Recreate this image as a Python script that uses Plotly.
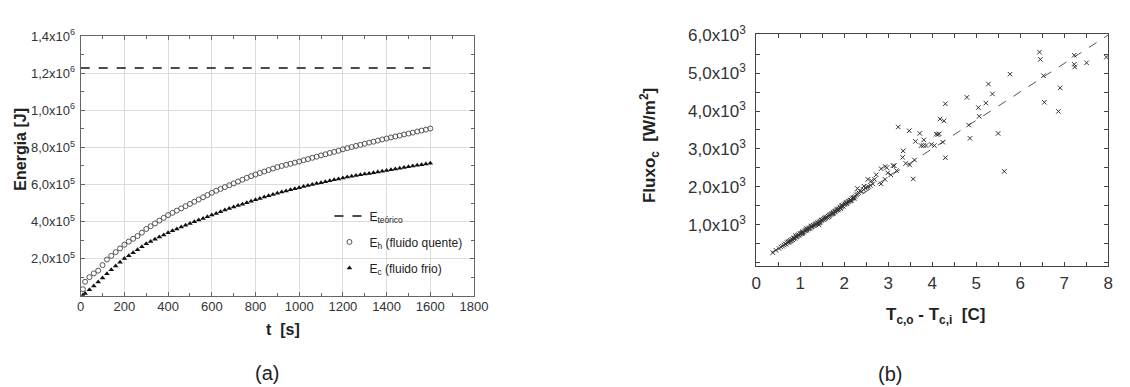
import plotly.graph_objects as go

# ---------------- (a) Energia vs tempo ----------------
t_s = [10] + list(range(20, 1620, 20))

E_h_MJ = [
    0.035,
    0.075, 0.100, 0.120, 0.135, 0.165, 0.195, 0.215, 0.235, 0.255, 0.275,
    0.292, 0.307, 0.322, 0.340, 0.360, 0.375, 0.390, 0.405, 0.420, 0.435,
    0.447, 0.459, 0.471, 0.483, 0.495, 0.507, 0.519, 0.531, 0.543, 0.555,
    0.566, 0.576, 0.586, 0.596, 0.606, 0.616, 0.626, 0.636, 0.645, 0.654,
    0.662, 0.670, 0.678, 0.686, 0.694, 0.700, 0.706, 0.712, 0.718, 0.724,
    0.731, 0.737, 0.744, 0.750, 0.757, 0.763, 0.770, 0.776, 0.782, 0.790,
    0.796, 0.802, 0.808, 0.814, 0.820, 0.826, 0.831, 0.837, 0.843, 0.848,
    0.854, 0.859, 0.864, 0.870, 0.875, 0.880, 0.886, 0.891, 0.896, 0.902,
]

E_c_MJ = [
    0.002,
    0.012, 0.032, 0.052, 0.074, 0.096, 0.118, 0.140, 0.160, 0.180, 0.200,
    0.216, 0.232, 0.248, 0.264, 0.280, 0.292, 0.304, 0.316, 0.328, 0.340,
    0.350, 0.360, 0.370, 0.380, 0.390, 0.399, 0.408, 0.417, 0.426, 0.435,
    0.444, 0.453, 0.462, 0.470, 0.478, 0.486, 0.494, 0.502, 0.510, 0.518,
    0.525, 0.532, 0.539, 0.546, 0.553, 0.559, 0.565, 0.571, 0.577, 0.583,
    0.589, 0.595, 0.600, 0.605, 0.610, 0.615, 0.620, 0.625, 0.630, 0.635,
    0.640, 0.644, 0.648, 0.652, 0.656, 0.660, 0.664, 0.668, 0.672, 0.676,
    0.680, 0.684, 0.688, 0.692, 0.696, 0.700, 0.704, 0.707, 0.711, 0.715,
]

t_teorico = [0, 1600]
E_teorico_J = [1.229e6, 1.229e6]

left_xticks = [0, 200, 400, 600, 800, 1000, 1200, 1400, 1600, 1800]
left_yticks = [2e5, 4e5, 6e5, 8e5, 1e6, 1.2e6, 1.4e6]
left_yticktext = ["2,0x10<sup>5</sup>", "4,0x10<sup>5</sup>", "6,0x10<sup>5</sup>",
                  "8,0x10<sup>5</sup>", "1,0x10<sup>6</sup>", "1,2x10<sup>6</sup>",
                  "1,4x10<sup>6</sup>"]

# ---------------- (b) Fluxo vs delta T ----------------
dT_dense = [
    0.38, 0.45, 0.52, 0.56, 0.60, 0.63, 0.66, 0.68, 0.70, 0.72,
    0.74, 0.76, 0.78, 0.80, 0.81, 0.83, 0.85, 0.86, 0.88, 0.90,
    0.91, 0.93, 0.95, 0.96, 0.98, 1.00, 1.01, 1.03, 1.05, 1.06,
    1.08, 1.10, 1.12, 1.14, 1.15, 1.17, 1.19, 1.21, 1.22, 1.24,
    1.26, 1.28, 1.30, 1.32, 1.34, 1.36, 1.38, 1.40, 1.42, 1.44,
    1.46, 1.48, 1.50, 1.52, 1.54, 1.56, 1.58, 1.60, 1.62, 1.64,
    1.66, 1.68, 1.70, 1.72, 1.74, 1.76, 1.78, 1.80, 1.82, 1.84,
    1.86, 1.88, 1.90, 1.92, 1.94, 1.96, 1.98, 2.00, 2.02, 2.04,
    2.06, 2.08, 2.10, 2.12, 2.14, 2.16, 2.18, 2.20, 2.22, 2.25,
    2.28, 2.30, 2.33, 2.36, 2.40, 2.44, 2.48, 2.52, 2.56, 2.60,
    2.65, 0.90, 1.05, 1.25, 1.35, 1.55, 1.45, 1.75, 1.95, 2.05,
    2.15, 0.75, 1.15, 1.65, 1.85, 2.23, 1.92, 1.43,
]
flux_dense = [
    270, 330, 380, 420, 440, 470, 500, 490, 530, 550,
    540, 570, 590, 580, 620, 610, 640, 660, 650, 680,
    700, 690, 720, 740, 730, 760, 780, 770, 800, 820,
    810, 840, 850, 870, 860, 890, 900, 920, 910, 940,
    950, 970, 990, 980, 1010, 1030, 1040, 1060, 1050, 1080,
    1100, 1120, 1130, 1150, 1140, 1170, 1190, 1210, 1200, 1230,
    1250, 1270, 1280, 1300, 1290, 1330, 1350, 1360, 1380, 1400,
    1390, 1420, 1450, 1460, 1480, 1500, 1490, 1530, 1550, 1570,
    1560, 1600, 1620, 1630, 1660, 1650, 1690, 1710, 1730, 1750,
    1790, 1820, 1850, 1900, 1880, 1930, 1970, 1990, 2010, 2040,
    2080, 720, 780, 970, 1000, 1180, 1060, 1310, 1520, 1590,
    1640, 560, 900, 1220, 1420, 1700, 1430, 1000,
]

dT_scatter = [
    2.30, 2.45, 2.54, 2.62, 2.69, 2.73, 2.84, 2.84, 2.93, 2.93,
    2.97, 2.99, 3.06, 3.11, 3.14, 3.19, 3.23, 3.33, 3.34, 3.40,
    3.48, 3.49, 3.57, 3.60, 3.62, 3.72, 3.75, 3.80, 3.81, 3.86,
    3.98, 4.05, 4.09, 4.13, 4.16, 4.18, 4.24, 4.27, 4.30, 4.30,
    4.79, 4.83, 4.86, 5.05, 5.07, 5.22, 5.28, 5.37, 5.50, 5.64,
    5.77, 6.44, 6.46, 6.53, 6.55, 6.87, 6.91, 7.23, 7.23, 7.24,
    7.51, 7.96,
]
flux_scatter = [
    1960, 2020, 2200, 2160, 2200, 2320, 2080, 2480, 2200, 2540,
    2510, 2370, 2320, 2560, 2560, 2430, 3580, 2780, 2950, 2620,
    3480, 2580, 2210, 2710, 3200, 3410, 3090, 3090, 3240, 3090,
    3120, 3090, 3390, 3380, 3400, 3790, 3180, 3740, 4190, 2770,
    4360, 3630, 3280, 4090, 3860, 4210, 4710, 4450, 3410, 2410,
    4970, 5550, 5360, 4930, 4230, 3990, 4610, 5470, 5230, 5160,
    5270, 5420,
]

dT_fit = [0.35, 8.0]
flux_fit = [270, 6000]

right_yticks = [1000, 2000, 3000, 4000, 5000, 6000]
right_yticktext = ["1,0x10<sup>3</sup>", "2,0x10<sup>3</sup>", "3,0x10<sup>3</sup>",
                   "4,0x10<sup>3</sup>", "5,0x10<sup>3</sup>", "6,0x10<sup>3</sup>"]

FONT = "Liberation Sans, Arial, sans-serif"
W, H = 1130, 387

fig = go.Figure()

fig.add_trace(go.Scatter(
    x=t_teorico, y=E_teorico_J, mode="lines",
    line=dict(color="#111111", width=1.5, dash="dash"),
    name="E<sub>teórico</sub>", legendgroup="a", xaxis="x", yaxis="y"))
fig.add_trace(go.Scatter(
    x=t_s, y=[v * 1e6 for v in E_h_MJ], mode="markers",
    marker=dict(symbol="circle-open", size=5, color="#555555", line=dict(width=1)),
    name="E<sub>h</sub> (fluido quente)", legendgroup="b", xaxis="x", yaxis="y"))
fig.add_trace(go.Scatter(
    x=t_s, y=[v * 1e6 for v in E_c_MJ], mode="markers",
    marker=dict(symbol="triangle-up", size=5, color="#111111"),
    name="E<sub>c</sub> (fluido frio)", legendgroup="c", xaxis="x", yaxis="y"))

fig.add_trace(go.Scatter(
    x=dT_fit, y=flux_fit, mode="lines",
    line=dict(color="#555555", width=1, dash="dash"),
    showlegend=False, xaxis="x2", yaxis="y2"))
fig.add_trace(go.Scatter(
    x=dT_dense + dT_scatter, y=flux_dense + flux_scatter, mode="markers",
    marker=dict(symbol="x-thin", size=4.5, color="#333333",
                line=dict(width=1, color="#333333")),
    showlegend=False, xaxis="x2", yaxis="y2"))

ax_common = dict(showline=True, mirror="allticks", ticks="inside", zeroline=False)

fig.update_layout(
    width=W, height=H,
    margin=dict(l=0, r=0, t=0, b=0),
    paper_bgcolor="white", plot_bgcolor="white",
    font=dict(family=FONT, color="#222222"),
    xaxis=dict(domain=[77 / W, 477 / W], range=[0, 1800],
               tickmode="array", tickvals=left_xticks,
               showgrid=True, gridcolor="#dcdcdc", gridwidth=1,
               linecolor="#666666", linewidth=1, ticklen=4, tickcolor="#666666",
               tickfont=dict(size=13, color="#333333"), ticklabelstandoff=-1,
               minor=dict(dtick=100, tick0=0, ticks="inside", ticklen=3,
                          tickcolor="#666666", showgrid=False),
               anchor="y", **ax_common),
    yaxis=dict(domain=[1 - 293 / H, 1 - 26 / H], range=[0, 1.4e6],
               tickmode="array", tickvals=left_yticks, ticktext=left_yticktext,
               showgrid=True, gridcolor="#dcdcdc", gridwidth=1,
               linecolor="#666666", linewidth=1, ticklen=4, tickcolor="#666666",
               tickfont=dict(size=13, color="#333333"), ticklabelstandoff=2,
               minor=dict(dtick=1e5, tick0=0, ticks="inside", ticklen=3,
                          tickcolor="#666666", showgrid=False),
               anchor="x", **ax_common),
    xaxis2=dict(domain=[764 / W, 1122 / W], range=[0, 8],
                tickmode="linear", tick0=0, dtick=1,
                showgrid=False, linecolor="#444444", linewidth=1,
                ticklen=4, tickcolor="#444444",
                tickfont=dict(size=17, color="#333333"), ticklabelstandoff=2,
                minor=dict(dtick=0.5, tick0=0, ticks="inside", ticklen=4,
                           tickcolor="#444444", showgrid=False),
                anchor="y2", **ax_common),
    yaxis2=dict(domain=[1 - 262 / H, 1 - 24 / H], range=[-70, 6020],
                tickmode="array", tickvals=right_yticks, ticktext=right_yticktext,
                showgrid=False, linecolor="#444444", linewidth=1,
                ticklen=4, tickcolor="#444444",
                tickfont=dict(size=17, color="#333333"), ticklabelstandoff=6,
                minor=dict(dtick=500, tick0=0, ticks="inside", ticklen=4,
                           tickcolor="#444444", showgrid=False),
                anchor="x2", **ax_common),
    legend=dict(x=330 / W, y=1 - 196 / H, xanchor="left", yanchor="top",
                bgcolor="rgba(0,0,0,0)", font=dict(size=12, color="#222222"),
                tracegroupgap=7, itemwidth=30),
    showlegend=True,
)

annos = [
    dict(text="<b>Energia [J]</b>", x=16 / W, y=1 - 142 / H, textangle=-90,
         font=dict(size=16, color="#222222")),
    dict(text="<b>t  [s]</b>", x=283 / W, y=1 - 328 / H,
         font=dict(size=16, color="#222222")),
    dict(text="(a)", x=266 / W, y=1 - 373 / H, font=dict(size=20, color="#222222")),
    dict(text="<b>Fluxo<sub>c</sub>  [W/m<sup>2</sup>]</b>", x=655 / W, y=1 - 138 / H,
         textangle=-90, font=dict(size=17, color="#222222")),
    dict(text="<b>T<sub>c,o</sub> - T<sub>c,i</sub>  [C]</b>", x=946 / W, y=1 - 314 / H,
         font=dict(size=17, color="#222222")),
    dict(text="(b)", x=900 / W, y=1 - 374 / H, font=dict(size=20, color="#222222")),
]
for a in annos:
    fig.add_annotation(xref="paper", yref="paper", showarrow=False,
                       xanchor="center", yanchor="middle", **a)

fig.write_html("out.html")
